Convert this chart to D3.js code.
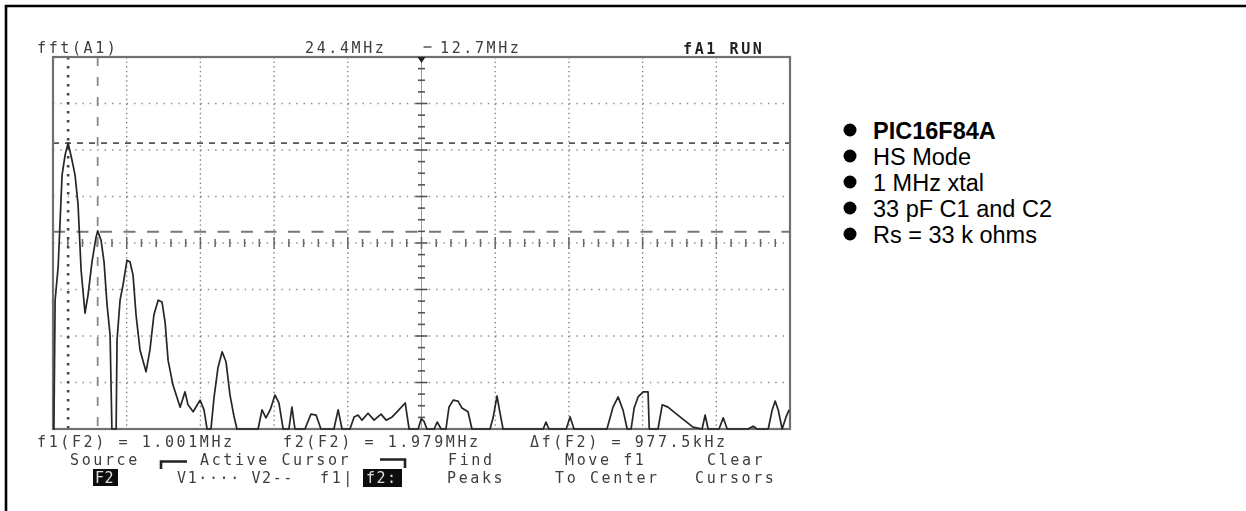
<!DOCTYPE html>
<html>
<head>
<meta charset="utf-8">
<script src="https://cdn.jsdelivr.net/npm/d3@7"></script>
<style>
  html, body { margin: 0; padding: 0; background: #fff; }
  svg { display: block; }
</style>
</head>
<body>
<svg id="chart" width="1246" height="511"></svg>
<script>
// FFT display settings (HP 546xx style readout)
const centerMHz = 12.7;
const spanMHz = 24.4;
const verticalDivs = 8;

// Spectrum trace: frequency (MHz) and level (divisions above the floor)
const freqMHz = [
  0.50, 0.53, 0.57, 0.67, 0.80, 0.90, 1.00, 1.13, 1.23, 1.33,
  1.43, 1.56, 1.66, 1.79, 1.92, 1.98, 2.09, 2.19, 2.29, 2.39,
  2.45, 2.59, 2.62, 2.72, 2.82, 2.95, 3.05, 3.15, 3.25, 3.38,
  3.58, 3.71, 3.84, 3.98, 4.11, 4.21, 4.31, 4.47, 4.71, 4.87,
  4.97, 5.14, 5.37, 5.50, 5.60, 5.73, 5.83, 5.96, 6.10, 6.23,
  6.36, 6.49, 6.59, 7.29, 7.42, 7.55, 7.69, 7.85, 7.98, 8.12,
  8.31, 8.41, 8.51, 8.84, 9.04, 9.21, 9.37, 9.80, 9.94, 10.07,
  10.33, 10.47, 10.60, 10.73, 10.93, 11.13, 11.36, 11.53, 11.73, 11.89,
  12.16, 12.29, 12.59, 12.69, 12.78, 12.88, 13.12, 13.22, 13.35, 13.51,
  13.61, 13.75, 13.91, 14.04, 14.24, 14.37, 14.97, 15.07, 15.20, 15.30,
  15.40, 16.73, 16.82, 16.92, 17.49, 17.62, 17.75, 18.84, 19.04, 19.21,
  19.37, 19.51, 19.64, 19.74, 19.87, 20.04, 20.20, 20.24, 20.53, 20.67,
  20.86, 21.26, 21.69, 21.99, 22.09, 22.19, 22.55, 22.69, 22.82, 23.51,
  23.68, 23.81, 24.18, 24.31, 24.41, 24.51, 24.64, 24.77, 24.87
];
const level = [
  0, 0, 2.77, 3.48, 5.46, 5.89, 6.15, 5.78, 5.46, 4.82,
  3.42, 2.49, 2.88, 3.59, 4.11, 4.26, 4.06, 3.59, 2.67, 2.02,
  0, 0, 1.91, 2.77, 3.10, 3.63, 3.59, 3.31, 2.45, 1.70,
  1.23, 1.70, 2.45, 2.77, 2.73, 2.30, 1.48, 0.95, 0.47, 0.80,
  0.52, 0.37, 0.62, 0.41, 0, 0, 0.67, 1.31, 1.66, 1.44,
  0.73, 0.28, 0, 0, 0.41, 0.24, 0.41, 0.73, 0.56, 0,
  0, 0.47, 0, 0, 0.32, 0.30, 0, 0, 0.41, 0,
  0, 0.26, 0.30, 0.19, 0.34, 0.19, 0.32, 0.19, 0.26, 0.37,
  0.56, 0, 0, 0.22, 0.17, 0, 0, 0.15, 0, 0,
  0.47, 0.62, 0.60, 0.45, 0.37, 0, 0, 0.24, 0.71, 0.34,
  0, 0, 0.15, 0, 0, 0.26, 0, 0, 0.47, 0.69,
  0.41, 0, 0, 0.45, 0.69, 0.80, 0.80, 0, 0, 0.52,
  0.47, 0.26, 0.04, 0, 0.30, 0, 0, 0.24, 0, 0,
  0.06, 0, 0, 0.41, 0.60, 0.41, 0, 0.26, 0.41
];

// Cursors: f1, f2 (MHz) and V1, V2 (divisions)
const cursorFreq = [1.001, 1.979];
const cursorLevel = [6.15, 4.24];

// Screen texts
const topLabels = ["fft(A1)", "24.4MHz", "12.7MHz", "fA1 RUN"];
const readouts = ["f1(F2) = 1.001MHz", "f2(F2) = 1.979MHz", "\u0394f(F2) = 977.5kHz"];
const softkeysTop = ["Source", "Active Cursor", "Find", "Move f1", "Clear"];
const softkeysBottom = ["V1\u00b7\u00b7\u00b7\u00b7 V2--", "f1|", "Peaks", "To Center", "Cursors"];

// Notes shown beside the screen
const legendItems = ["PIC16F84A", "HS Mode", "1 MHz xtal", "33 pF C1 and C2", "Rs = 33 k ohms"];

const svg = d3.select("#chart");

// Page frame (top and left edges)
svg.append("path")
  .attr("d", "M6,511 V6 H1246")
  .attr("fill", "none")
  .attr("stroke", "#000")
  .attr("stroke-width", 2.6);

// Soft focus of the captured scope screen
const defs = svg.append("defs");
defs.append("filter").attr("id", "soft")
  .attr("x", "-2%").attr("y", "-2%").attr("width", "104%").attr("height", "104%")
  .append("feGaussianBlur").attr("stdDeviation", 0.55);

const scope = svg.append("g").attr("filter", "url(#soft)");

const x = d3.scaleLinear()
  .domain([centerMHz - spanMHz / 2, centerMHz + spanMHz / 2])
  .range([53, 790]);
const y = d3.scaleLinear()
  .domain([0, verticalDivs])
  .range([429, 57]);

const fMin = x.domain()[0];
const divMHz = spanMHz / 10;

// Graticule: dotted lines at every division
const grid = scope.append("g");
d3.range(1, 10).filter(i => i !== 5).forEach(i => {
  const gx = x(fMin + i * divMHz);
  grid.append("line")
    .attr("x1", gx).attr("x2", gx)
    .attr("y1", y(verticalDivs)).attr("y2", y(0))
    .attr("stroke", "#7d7d7d").attr("stroke-width", 1.3)
    .attr("stroke-dasharray", "1.4 3.25");
});
d3.range(1, verticalDivs).filter(i => i !== verticalDivs / 2).forEach(i => {
  const gy = y(i);
  grid.append("line")
    .attr("x1", x.range()[0]).attr("x2", x.range()[1])
    .attr("y1", gy).attr("y2", gy)
    .attr("stroke", "#8a8a8a").attr("stroke-width", 1.3)
    .attr("stroke-dasharray", "1.4 5.97");
});

// Centre axes with minor ticks
const cx = x(centerMHz), cy = y(verticalDivs / 2);
grid.append("line")
  .attr("x1", cx).attr("x2", cx).attr("y1", y(verticalDivs)).attr("y2", y(0))
  .attr("stroke", "#9a9a9a").attr("stroke-width", 1);
grid.append("line")
  .attr("x1", x.range()[0]).attr("x2", x.range()[1]).attr("y1", cy).attr("y2", cy)
  .attr("stroke", "#8a8a8a").attr("stroke-width", 1.3)
  .attr("stroke-dasharray", "1.4 5.97");
d3.range(0, verticalDivs * 4 + 1).forEach(i => {
  const ty = y(i / 4);
  const w = i % 4 === 0 ? 6 : 3.5;
  grid.append("line")
    .attr("x1", cx - w).attr("x2", cx + w).attr("y1", ty).attr("y2", ty)
    .attr("stroke", "#555").attr("stroke-width", 1.6);
});
d3.range(0, 51).forEach(i => {
  const tx = x(fMin + i * divMHz / 5);
  const h = i % 5 === 0 ? 6 : 4;
  grid.append("line")
    .attr("x1", tx).attr("x2", tx).attr("y1", cy - h).attr("y2", cy + h)
    .attr("stroke", "#666").attr("stroke-width", 1.5);
});

// Amplitude cursors
scope.append("line")
  .attr("x1", x.range()[0]).attr("x2", x.range()[1])
  .attr("y1", y(cursorLevel[0])).attr("y2", y(cursorLevel[0]))
  .attr("stroke", "#555").attr("stroke-width", 1.8)
  .attr("stroke-dasharray", "6 6");
scope.append("line")
  .attr("x1", x.range()[0]).attr("x2", x.range()[1])
  .attr("y1", y(cursorLevel[1])).attr("y2", y(cursorLevel[1]))
  .attr("stroke", "#777").attr("stroke-width", 2)
  .attr("stroke-dasharray", "12 11.5");

// Frequency cursors
scope.append("line")
  .attr("x1", x(cursorFreq[0])).attr("x2", x(cursorFreq[0]))
  .attr("y1", y(verticalDivs)).attr("y2", y(0))
  .attr("stroke", "#444").attr("stroke-width", 2.6)
  .attr("stroke-dasharray", "2.6 6.4");
scope.append("line")
  .attr("x1", x(cursorFreq[1])).attr("x2", x(cursorFreq[1]))
  .attr("y1", y(verticalDivs)).attr("y2", y(0))
  .attr("stroke", "#888").attr("stroke-width", 1.8)
  .attr("stroke-dasharray", "9 11");

// Screen border
scope.append("rect")
  .attr("x", x.range()[0]).attr("y", y(verticalDivs))
  .attr("width", x.range()[1] - x.range()[0])
  .attr("height", y(0) - y(verticalDivs))
  .attr("fill", "none").attr("stroke", "#707070").attr("stroke-width", 2.2);

// Spectrum trace
const line = d3.line()
  .x((d, i) => x(freqMHz[i]))
  .y(d => y(d));
scope.append("path")
  .datum(level)
  .attr("d", line)
  .attr("fill", "none")
  .attr("stroke", "#262626")
  .attr("stroke-width", 1.7)
  .attr("stroke-linejoin", "round");

// Centre-frequency marker
scope.append("path")
  .attr("d", `M${cx - 4},${y(verticalDivs)} L${cx + 4},${y(verticalDivs)} L${cx},${y(verticalDivs) + 6} Z`)
  .attr("fill", "#222");
scope.append("line")
  .attr("x1", cx + 2).attr("x2", cx + 10).attr("y1", 47).attr("y2", 47)
  .attr("stroke", "#555").attr("stroke-width", 1.5);

// Screen text
const monoFont = "'DejaVu Sans Mono', 'Liberation Mono', monospace";
function scopeText(str, tx, ty, opts = {}) {
  return scope.append("text")
    .attr("x", tx).attr("y", ty)
    .attr("font-family", monoFont)
    .attr("font-size", 15)
    .attr("letter-spacing", opts.ls !== undefined ? opts.ls : 2.6)
    .attr("font-weight", opts.bold ? "bold" : "normal")
    .attr("fill", opts.fill || "#3d3d3d")
    .attr("xml:space", "preserve")
    .text(str);
}
scopeText(topLabels[0], 37, 53);
scopeText(topLabels[1], 305, 53);
scopeText(topLabels[2], 440, 53);
scopeText(topLabels[3], 683, 54, { bold: true, fill: "#222" });

scopeText(readouts[0], 37, 447);
scopeText(readouts[1], 283, 447);
scopeText(readouts[2], 530, 447);

scopeText(softkeysTop[0], 70, 465);
scopeText(softkeysTop[1], 200, 465);
scopeText(softkeysTop[2], 448, 465);
scopeText(softkeysTop[3], 565, 465);
scopeText(softkeysTop[4], 707, 465);

// "Active Cursor" bracket
scope.append("path")
  .attr("d", "M161,469 V461.5 H187")
  .attr("fill", "none").attr("stroke", "#222").attr("stroke-width", 2.6);
scope.append("path")
  .attr("d", "M380,459.5 H405 V468")
  .attr("fill", "none").attr("stroke", "#222").attr("stroke-width", 2.6);

// Highlighted softkey selections
scope.append("rect").attr("x", 93).attr("y", 469).attr("width", 25).attr("height", 17).attr("fill", "#111");
scopeText("F2", 95, 483, { fill: "#ddd", ls: 0.5 });
scope.append("rect").attr("x", 363).attr("y", 469).attr("width", 39).attr("height", 18).attr("fill", "#111");
scopeText("f2:", 366, 483, { fill: "#ddd", ls: 1.5 });

scopeText(softkeysBottom[0], 177, 483, { ls: 1.6 });
scopeText(softkeysBottom[1], 320, 483);
scopeText(softkeysBottom[2], 447, 483);
scopeText(softkeysBottom[3], 555, 483);
scopeText(softkeysBottom[4], 695, 483);

// Notes list
const legend = svg.append("g");
legendItems.forEach((t, i) => {
  const ly = 130 + i * 26;
  legend.append("circle")
    .attr("cx", 850).attr("cy", ly).attr("r", 6.5).attr("fill", "#000");
  legend.append("text")
    .attr("x", 873).attr("y", ly + 8.5)
    .attr("font-family", "'Liberation Sans', Arial, Helvetica, sans-serif")
    .attr("font-size", 23.5)
    .attr("font-weight", i === 0 ? "bold" : "normal")
    .attr("fill", "#000")
    .text(t);
});
</script>
</body>
</html>
